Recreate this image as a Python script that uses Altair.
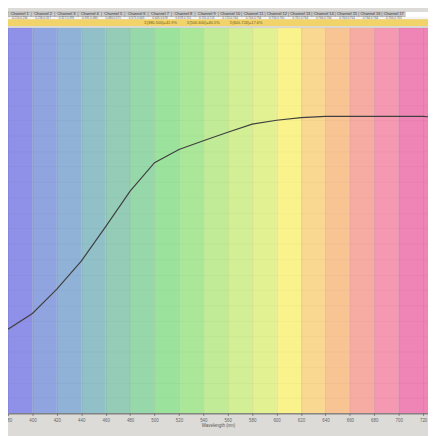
import altair as alt
import pandas as pd

# ---- data -------------------------------------------------------------
band_start = [380, 400, 420, 440, 460, 480, 500, 520, 540, 560, 580, 600, 620, 640, 660, 680, 700]
band_end = [400, 420, 440, 460, 480, 500, 520, 540, 560, 580, 600, 620, 640, 660, 680, 700, 724]
band_colors = ["#8f90e8", "#90a4df", "#90b2d7", "#91c0c8", "#95ccb8", "#97d8aa", "#9be39d",
               "#abe799", "#c1eb97", "#d2ef95", "#e2f191", "#faf38c", "#f9d892", "#f8c494",
               "#f6aca2", "#f598b1", "#ef84b6"]

wavelengths = [380, 400, 420, 440, 460, 480, 500, 520, 540, 560, 580, 600, 620, 640, 660, 680, 700, 720, 724]
response = [0.218, 0.259, 0.322, 0.395, 0.484, 0.576, 0.650, 0.684, 0.707, 0.729, 0.750,
            0.760, 0.767, 0.770, 0.770, 0.770, 0.770, 0.770, 0.769]

tick_values = [380, 400, 420, 440, 460, 480, 500, 520, 540, 560, 580, 600, 620, 640, 660, 680, 700, 720]

header_names = ["Channel 1", "Channel 2", "Channel 3", "Channel 4", "Channel 5", "Channel 6",
                "Channel 7", "Channel 8", "Channel 9", "Channel 10", "Channel 11", "Channel 12",
                "Channel 13", "Channel 14", "Channel 15", "Channel 16", "Channel 17"]
header_values = ["0.216,0.256", "0.256,0.317", "0.317,0.391", "0.391,0.480", "0.480,0.571",
                 "0.571,0.645", "0.645,0.678", "0.678,0.701", "0.701,0.723", "0.723,0.744",
                 "0.744,0.754", "0.754,0.761", "0.761,0.764", "0.764,0.764", "0.764,0.764",
                 "0.764,0.764", "0.764,0.763"]
summary_texts = ["Σ(380-500)=41.9%", "Σ(500-600)=40.5%", "Σ(600-724)=17.6%"]
summary_pos = [505, 540, 575]

X_DOMAIN = [380, 724]
x_scale = alt.Scale(domain=X_DOMAIN, nice=False, zero=False)
y_scale = alt.Scale(domain=[0, 1], nice=False, zero=False)

x_axis = alt.Axis(values=tick_values, title="Wavelength (nm)", format="d",
                  grid=True, gridColor="#000000", gridOpacity=0.06, gridWidth=1,
                  labelFontSize=4.5, labelColor="#666666", labelPadding=2,
                  labelOverlap=False, labelFlush=False, labelBound=False,
                  tickSize=2, tickColor="#777777", domainColor="#5a5a5a",
                  titleFontSize=4.5, titleFontWeight="normal", titleColor="#555555",
                  titlePadding=1, zindex=1, labelFont="Arial", titleFont="Arial")


def X(field):
    return alt.X(field, scale=x_scale, axis=x_axis, title="Wavelength (nm)")


cell_w = 19.15
cell_start = [380 + cell_w * i for i in range(17)]
cell_end = [s + cell_w for s in cell_start]
cell_mid = [s + cell_w / 2 for s in cell_start]

# ---- plot layers -----------------------------------------------------
bands_df = pd.DataFrame({"x": band_start, "x2": band_end, "c": band_colors})
bands = alt.Chart(bands_df).mark_rect().encode(
    x=X("x:Q"),
    x2="x2:Q",
    color=alt.Color("c:N", scale=None, legend=None),
)

line_df = pd.DataFrame({"wl": wavelengths, "v": response})
line = alt.Chart(line_df).mark_line(color="#404040", strokeWidth=1.2).encode(
    x=X("wl:Q"),
    y=alt.Y("v:Q", scale=y_scale,
            axis=alt.Axis(values=[i / 25 for i in range(26)], grid=True, gridColor="#000000",
                          gridOpacity=0.03, labels=False, ticks=False, domain=False,
                          title=None, zindex=1)),
)

# ---- header ----------------------------------------------------------
hdr_df = pd.DataFrame({"x": cell_start, "x2": cell_end, "m": cell_mid,
                       "name": header_names, "val": header_values})
row1 = alt.Chart(hdr_df).mark_rect(fill="#c9c9c9", stroke="#9a9a9a", strokeWidth=0.6).encode(
    x=X("x:Q"), x2="x2:Q", y=alt.value(-16), y2=alt.value(-11))
row1_text = alt.Chart(hdr_df).mark_text(fontSize=4, color="#333333", baseline="middle").encode(
    x=X("m:Q"), y=alt.value(-13.5), text="name:N")

full_df = pd.DataFrame({"x": [X_DOMAIN[0]], "x2": [X_DOMAIN[1]], "tail": [cell_end[-1]]})
row1_tail = alt.Chart(full_df).mark_rect(fill="#ffffff").encode(
    x=X("tail:Q"), x2="x2:Q", y=alt.value(-16), y2=alt.value(-11))
row2 = alt.Chart(full_df).mark_rect(fill="#f4f4f4").encode(
    x=X("x:Q"), x2="x2:Q", y=alt.value(-11), y2=alt.value(-8.5))
row2_text = alt.Chart(hdr_df).mark_text(fontSize=3, color="#666666", baseline="middle").encode(
    x=X("m:Q"), y=alt.value(-9.8), text="val:N")
row3 = alt.Chart(full_df).mark_rect(fill="#f1d36a").encode(
    x=X("x:Q"), x2="x2:Q", y=alt.value(-8.5), y2=alt.value(-1.5))
strip = alt.Chart(full_df).mark_rect(fill="#d8d8d8").encode(
    x=X("x:Q"), x2="x2:Q", y=alt.value(-1.5), y2=alt.value(0))
sum_df = pd.DataFrame({"p": summary_pos, "t": summary_texts})
row3_text = alt.Chart(sum_df).mark_text(fontSize=4, color="#6a5a20", baseline="middle").encode(
    x=X("p:Q"), y=alt.value(-5), text="t:N")

chart = alt.layer(bands, line, row1, row1_tail, row1_text, row2, row2_text, row3, strip,
                  row3_text).properties(
    width=428, height=393,
    padding={"top": 16, "bottom": 19, "left": 0, "right": 0},
    autosize=alt.AutoSizeParams(type="none"),
    background="#dddbd8",
).configure_view(stroke=None).configure_axis(labelOverlap=False)

chart.save("out.html", embed_options={"renderer": "svg", "actions": False})
